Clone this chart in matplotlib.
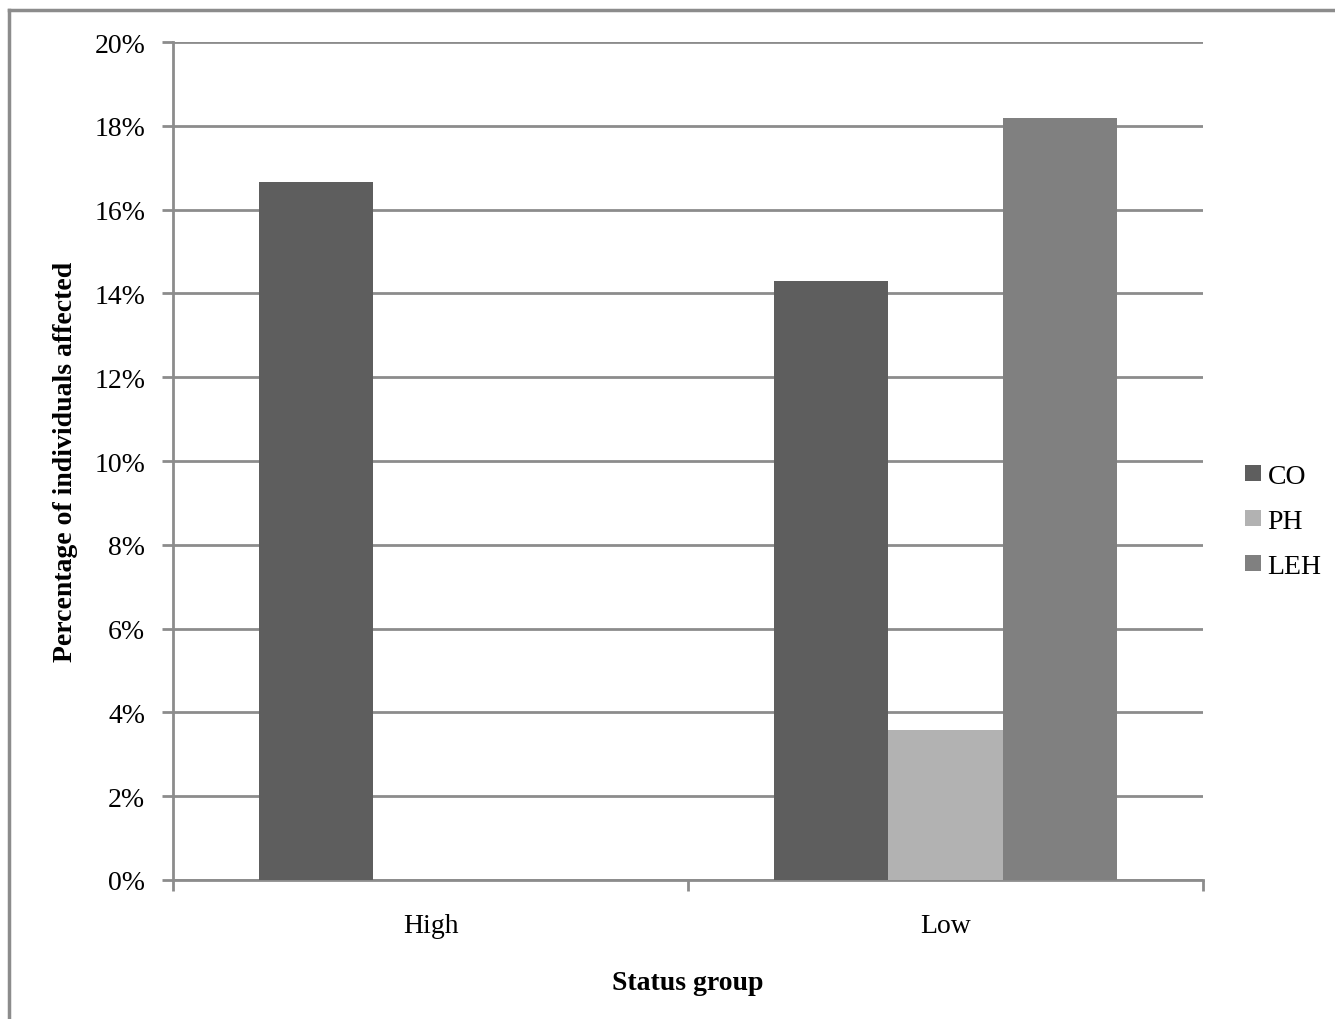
import matplotlib
matplotlib.use("Agg")
import matplotlib.pyplot as plt
from matplotlib.lines import Line2D
import numpy as np

groups = ["High", "Low"]
series = ["CO", "PH", "LEH"]
co = [16.67, 14.29]
ph = [0.0, 3.57]
leh = [0.0, 18.18]
colors = ["#5e5e5e", "#b2b2b2", "#808080"]
yticks = [0, 2, 4, 6, 8, 10, 12, 14, 16, 18, 20]

plt.rcParams["font.family"] = ["Liberation Serif", "DejaVu Serif"]

fig = plt.figure(figsize=(13.35, 10.2), dpi=100)
ax = fig.add_axes([173/1335, 1-881/1020, (1203-173)/1335, (881-43)/1020])

x = np.arange(len(groups))
w = 1/4.5
for i, (vals, name, c) in enumerate(zip([co, ph, leh], series, colors)):
    ax.bar(x + (i-1)*w, vals, width=w, color=c, label=name, zorder=3)

ax.set_xlim(-0.5, 1.5)
ax.set_ylim(0, 20)
ax.set_yticks(yticks)
ax.set_yticklabels([f"{t}%" for t in yticks], fontsize=20)
ax.yaxis.grid(True, color="#8c8c8c", linewidth=2, zorder=0)
ax.set_axisbelow(True)

ax.set_xticks([-0.5, 0.5, 1.5])
ax.set_xticklabels([])
ax.set_xticks(x, minor=True)
ax.set_xticklabels(groups, minor=True, fontsize=20)
ax.tick_params(axis="x", which="minor", length=0, pad=24)
ax.tick_params(axis="x", which="major", length=8, width=2, color="#8c8c8c", direction="out")
ax.tick_params(axis="y", length=8, width=2, color="#8c8c8c", direction="out", pad=12)

for s in ["top", "right"]:
    ax.spines[s].set_visible(False)
for s in ["left", "bottom"]:
    ax.spines[s].set_color("#8c8c8c")
    ax.spines[s].set_linewidth(2)

ax.set_ylabel("Percentage of individuals affected", fontsize=20, fontweight="bold", labelpad=12)
ax.set_xlabel("Status group", fontsize=20, fontweight="bold", labelpad=23)

leg = ax.legend(loc="center left", bbox_to_anchor=(1.041, 0.428), frameon=False, fontsize=20,
                handlelength=0.55, handleheight=0.55, handletextpad=0.25, labelspacing=0.72,
                borderpad=0, borderaxespad=0)

fig.add_artist(Line2D([9/1335, 9/1335], [0, 1-11/1020], color="#8c8c8c", linewidth=2.5))
fig.add_artist(Line2D([9/1335, 1], [1-11/1020, 1-11/1020], color="#8c8c8c", linewidth=2.5))

fig.savefig("out.png", dpi=100)
